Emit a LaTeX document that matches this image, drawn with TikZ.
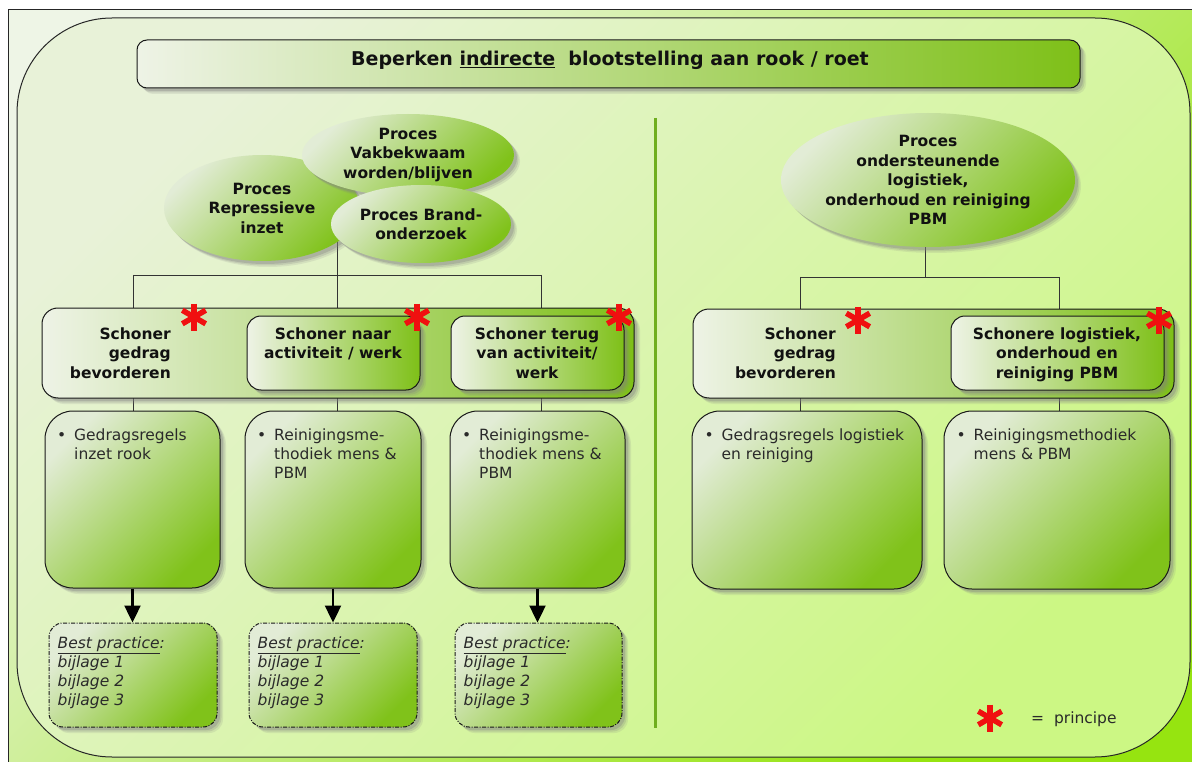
\documentclass[tikz,border=0pt]{standalone}
\usepackage{fontspec}
\setmainfont{DejaVu Sans}
\usetikzlibrary{shapes.geometric,shadows,arrows.meta}
\pgfdeclarelayer{bg}\pgfdeclarelayer{lines}
\pgfsetlayers{bg,lines,main}
\definecolor{lite}{HTML}{E2ECD6}
\definecolor{mid}{HTML}{AEDC68}
\definecolor{grn}{HTML}{80C21A}
\definecolor{hlite}{HTML}{EEF3E6}
\definecolor{hmid}{HTML}{C0DE94}
\definecolor{hgrn}{HTML}{7EC018}
\definecolor{bglite}{HTML}{E8F2D8}
\definecolor{bggrn}{HTML}{CCF784}
\definecolor{outlite}{HTML}{EEF5E6}
\definecolor{outgrn}{HTML}{96E410}
\definecolor{divgrn}{HTML}{6FAE1E}
\definecolor{txt}{HTML}{111111}
\definecolor{rtxt}{HTML}{2A2A2A}
\definecolor{astred}{HTML}{F01010}
\newcommand{\myBold}{\fontsize{15.5}{19.5}\selectfont\bfseries}
\newcommand{\myReg}{\fontsize{15.5}{19}\selectfont}
\newcommand{\myTitle}{\fontsize{19}{23}\selectfont\bfseries}
\begin{document}
\begin{tikzpicture}[x=1pt,y=-1pt,
  conn/.style={draw=black!80, line width=0.9pt},
  diag/.style={top color=lite, middle color=mid, bottom color=grn, shading angle=45},
  horiz/.style={left color=hlite, middle color=hmid, right color=hgrn},
  shad/.style={drop shadow={shadow xshift=6pt, shadow yshift=-6pt, opacity=0.15},
               drop shadow={shadow xshift=4.5pt, shadow yshift=-4.5pt, opacity=0.22},
               drop shadow={shadow xshift=3pt, shadow yshift=-3pt, opacity=0.32}},
  ell/.style={ellipse, diag, shad, inner sep=0pt, align=center, font=\myBold, text=txt},
  rbox/.style={rectangle, rounded corners=#1, draw=black!90, line width=1pt, shad, inner sep=0pt},
  rbox/.default=12pt,
  gtxt/.style={font=\myBold, text=txt, inner sep=0pt},
  ltxt/.style={font=\myReg, text=rtxt, inner sep=0pt},
  btxt/.style={font=\myReg\itshape, text=rtxt, inner sep=0pt},
  bpbox/.style={rbox=14pt, diag, dash pattern=on 4pt off 1.5pt on 1pt off 1.5pt},
  redast/.pic={\foreach \a in {90,30,150}{\draw[astred, line width=5.5pt] (\a:13.5pt) -- (\a+180:13.5pt);}},
  arr/.style={line width=2.4pt, -{Triangle[length=17pt,width=16pt]}},
]
\useasboundingbox (0,0) rectangle (1192,762);

\begin{pgfonlayer}{bg}
\fill[white] (0,0) rectangle (1192,762);
\shade[top color=outlite, bottom color=outgrn, shading angle=45] (8,10) rectangle (1192,762);
\draw[black!85, line width=1pt] (8,762) -- (8,10) -- (1192,10);
\draw[black!85, line width=1pt, top color=bglite, bottom color=bggrn, shading angle=45, rounded corners=95pt] (17,18) rectangle (1190,757);
\draw[divgrn, line width=3pt] (655,118) -- (655,728);
\end{pgfonlayer}

% title
\node[rbox=10pt, horiz, minimum width=943pt, minimum height=48pt] (title) at (608.5,64) {};
\node[font=\myTitle, text=txt, anchor=base, inner sep=0pt] (titletxt) at (610,65.7) {Beperken \underline{indirecte}\ \ blootstelling aan rook / roet};

% ellipses
\node[ell, minimum width=196pt, minimum height=106pt] (rep) at (262,208) {Proces\\Repressieve\\inzet};
\node[ell, minimum width=212pt, minimum height=82pt] (vak) at (408,155) {Proces\\Vakbekwaam\\worden/blijven};
\node[ell, minimum width=180pt, minimum height=78pt] (brand) at (421,224) {Proces Brand-\\onderzoek};
\node[ell, minimum width=294pt, minimum height=134pt] (proc) at (928,180) {Proces\\ondersteunende\\logistiek,\\onderhoud en reiniging\\PBM};

% left group
\node[rbox=16pt, horiz, minimum width=592pt, minimum height=90pt] (grpL) at (338,353) {};
\node[rbox=14pt, horiz, minimum width=173pt, minimum height=74pt] (naar) at (333.5,353) {};
\node[rbox=14pt, horiz, minimum width=173pt, minimum height=74pt] (terug) at (537.5,353) {};
\node[gtxt, anchor=base east] (tgL) at (171,339) {\begin{tabular}[t]{@{}r@{}}Schoner\\gedrag\\bevorderen\end{tabular}};
\node[gtxt, anchor=base] (tnaar) at (333,339) {\begin{tabular}[t]{@{}c@{}}Schoner naar\\activiteit / werk\end{tabular}};
\node[gtxt, anchor=base] (tterug) at (537,339) {\begin{tabular}[t]{@{}c@{}}Schoner terug\\van activiteit/\\werk\end{tabular}};

% right group
\node[rbox=16pt, horiz, minimum width=481pt, minimum height=89pt] (grpR) at (933.5,353.5) {};
\node[rbox=14pt, horiz, minimum width=213pt, minimum height=74pt] (logi) at (1057.5,353) {};
\node[gtxt, anchor=base east] (tgR) at (836,339) {\begin{tabular}[t]{@{}r@{}}Schoner\\gedrag\\bevorderen\end{tabular}};
\node[gtxt, anchor=base] (tlogi) at (1057,339) {\begin{tabular}[t]{@{}c@{}}Schonere logistiek,\\onderhoud en\\reiniging PBM\end{tabular}};

% lower boxes
\node[rbox=28pt, diag, minimum width=175pt, minimum height=177pt] (lb1) at (132.5,499.5) {};
\node[rbox=28pt, diag, minimum width=176pt, minimum height=177pt] (lb2) at (333,499.5) {};
\node[rbox=28pt, diag, minimum width=175pt, minimum height=177pt] (lb3) at (537.5,499.5) {};
\node[rbox=28pt, diag, minimum width=230pt, minimum height=178pt] (rb1) at (807,500) {};
\node[rbox=28pt, diag, minimum width=226pt, minimum height=178pt] (rb2) at (1057,500) {};

\node[ltxt, anchor=base west] (tlb1) at ([shift={(12.5,30)}]lb1.north west) {\begin{tabular}[t]{@{}l@{}l@{}}\makebox[17pt][l]{\textbullet}&Gedragsregels\\&inzet rook\end{tabular}};
\node[ltxt, anchor=base west] (tlb2) at ([shift={(12.5,30)}]lb2.north west) {\begin{tabular}[t]{@{}l@{}l@{}}\makebox[17pt][l]{\textbullet}&Reinigingsme-\\&thodiek mens \&\\&PBM\end{tabular}};
\node[ltxt, anchor=base west] (tlb3) at ([shift={(12.5,30)}]lb3.north west) {\begin{tabular}[t]{@{}l@{}l@{}}\makebox[17pt][l]{\textbullet}&Reinigingsme-\\&thodiek mens \&\\&PBM\end{tabular}};
\node[ltxt, anchor=base west] (trb1) at ([shift={(13,30)}]rb1.north west) {\begin{tabular}[t]{@{}l@{}l@{}}\makebox[17pt][l]{\textbullet}&Gedragsregels logistiek\\&en reiniging\end{tabular}};
\node[ltxt, anchor=base west] (trb2) at ([shift={(13,30)}]rb2.north west) {\begin{tabular}[t]{@{}l@{}l@{}}\makebox[17pt][l]{\textbullet}&Reinigingsmethodiek\\&mens \& PBM\end{tabular}};

% best practice boxes
\node[bpbox, minimum width=168pt, minimum height=104pt] (bp1) at (133,675) {};
\node[bpbox, minimum width=168pt, minimum height=104pt] (bp2) at (333,675) {};
\node[bpbox, minimum width=167pt, minimum height=104pt] (bp3) at (538.5,675) {};
\foreach \b in {bp1,bp2,bp3}{
  \node[btxt, anchor=base west] (t\b) at ([shift={(9,26)}]\b.north west) {\begin{tabular}[t]{@{}l@{}}\underline{Best practice}:\\bijlage 1\\bijlage 2\\bijlage 3\end{tabular}};
}

% arrows
\draw[arr] (lb1.south) -- (lb1.south |- bp1.north);
\draw[arr] (lb2.south) -- (lb2.south |- bp2.north);
\draw[arr] (lb3.south) -- (lb3.south |- bp3.north);

% stars
\pic at (194,317) {redast};
\pic at (417,317) {redast};
\pic at (619,317) {redast};
\pic at (858,320) {redast};
\pic at (1159,320) {redast};
\pic at (990,718) {redast};
\node[ltxt, anchor=base west] (legend) at (1031,723) {=\ \ principe};

% connectors
\begin{pgfonlayer}{lines}
\coordinate (jL) at (337,275);
\coordinate (jL1) at (133,275);
\coordinate (jL3) at (541,275);
\draw[conn] (jL |- rep.center) -- (jL);
\draw[conn] (jL1) -- (jL3);
\draw[conn] (jL1) -- (jL1 |- lb1.north);
\draw[conn] (jL) -- (jL |- lb2.north);
\draw[conn] (jL3) -- (jL3 |- lb3.north);
\coordinate (jR) at (925,277);
\coordinate (jR1) at (800,277);
\coordinate (jR2) at (1059,277);
\draw[conn] (jR |- proc.center) -- (jR);
\draw[conn] (jR1) -- (jR2);
\draw[conn] (jR1) -- (jR1 |- rb1.north);
\draw[conn] (jR2) -- (jR2 |- rb2.north);
\end{pgfonlayer}
\end{tikzpicture}
\end{document}
